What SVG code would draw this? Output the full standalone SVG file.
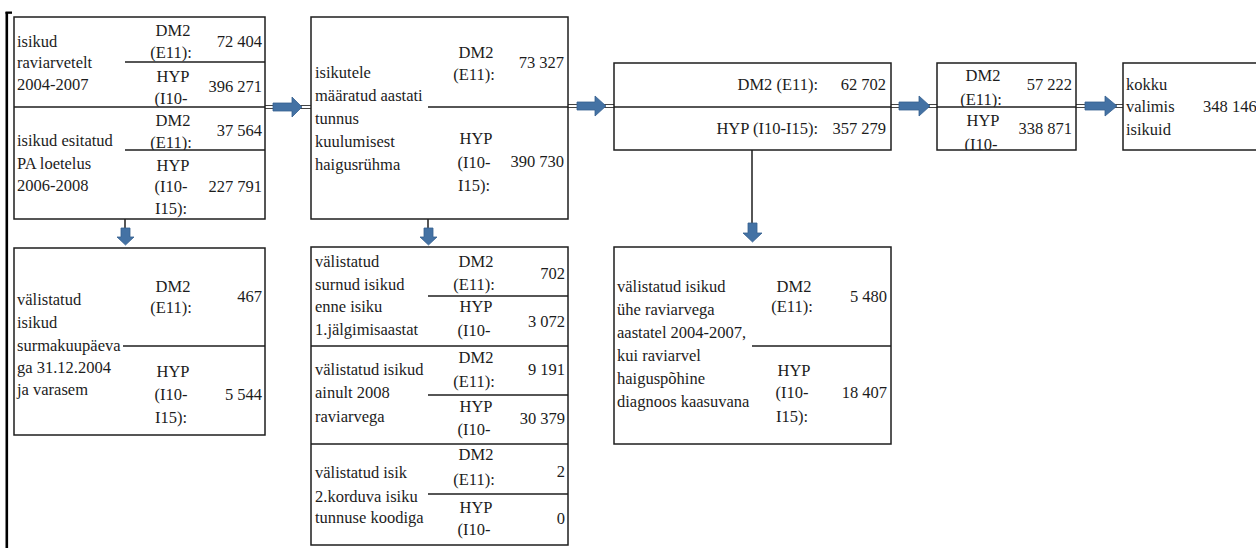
<svg xmlns="http://www.w3.org/2000/svg" width="1256" height="548" viewBox="0 0 1256 548">
<style>
  .box { fill: #ffffff; stroke: #1e1e1e; stroke-width: 1.5; }
  .div { stroke: #1e1e1e; stroke-width: 1.3; fill: none; }
  .t { font-family: "Liberation Serif", "Times New Roman", serif; font-size: 16.5px; fill: #1c1c1c; }
  .c { text-anchor: middle; }
  .r { text-anchor: end; }
  .dl { stroke: #444; stroke-width: 1; fill: none; }
  .vl { stroke: #1e1e1e; stroke-width: 1.5; fill: none; }
  .arr { fill: #4472A4; stroke: #35608f; stroke-width: 0.8; }
</style>
<defs>
  <clipPath id="clipA1"><rect x="14" y="17" width="251" height="90"/></clipPath>
  <clipPath id="clipA2"><rect x="14" y="107" width="251" height="43"/></clipPath>
  <clipPath id="clipD1"><rect x="937" y="63" width="139" height="44"/></clipPath>
  <clipPath id="clipD2"><rect x="937" y="107" width="139" height="43"/></clipPath>
</defs>
<rect x="0" y="0" width="1256" height="548" fill="#ffffff"/>

<g id="frame">
  <rect x="5.5" y="12" width="2.6" height="536" fill="#000"/>
  <rect x="5.5" y="11.5" width="6.5" height="2.3" fill="#000"/>
</g>

<g id="connectors">
  <line class="dl" x1="265" y1="105.5" x2="311" y2="105.5"/>
  <line class="dl" x1="265" y1="108.5" x2="311" y2="108.5"/>
  <path class="arr" d="M273,103 H292 V97 L302,107 L292,117 V111 H273 Z"/>
  <line class="dl" x1="568" y1="104.5" x2="614" y2="104.5"/>
  <line class="dl" x1="568" y1="107.5" x2="614" y2="107.5"/>
  <path class="arr" d="M577,102 H595 V96 L606,106 L595,116 V110 H577 Z"/>
  <line class="dl" x1="891" y1="104.5" x2="937" y2="104.5"/>
  <line class="dl" x1="891" y1="107.5" x2="937" y2="107.5"/>
  <path class="arr" d="M899,102 H919 V96 L930,106 L919,116 V110 H899 Z"/>
  <line class="dl" x1="1076" y1="104.5" x2="1123" y2="104.5"/>
  <line class="dl" x1="1076" y1="107.5" x2="1123" y2="107.5"/>
  <path class="arr" d="M1085,102 H1105 V96 L1117,106 L1105,116 V110 H1085 Z"/>
  <line class="vl" x1="125" y1="219" x2="125" y2="230"/>
  <path class="arr" d="M121,228 H130 V237 H134 L125.5,245 L117,237 H121 Z"/>
  <line class="vl" x1="428" y1="219" x2="428" y2="230"/>
  <path class="arr" d="M424,228 H433 V237 H437 L428.5,245 L420,237 H424 Z"/>
  <line class="vl" x1="752" y1="150" x2="752" y2="226"/>
  <path class="arr" d="M748,223 H757 V233 H762 L752.5,242 L743,233 H748 Z"/>
</g>

<g id="nodeA">
  <rect class="box" x="14" y="17" width="251" height="202"/>
  <line class="div" x1="14" y1="107" x2="265" y2="107"/>
  <line class="div" x1="125" y1="62" x2="265" y2="62"/>
  <line class="div" x1="125" y1="150" x2="265" y2="150"/>
  <text class="t" x="17" y="47">isikud</text>
  <text class="t" x="17" y="68">raviarvetelt</text>
  <text class="t" x="17" y="90">2004-2007</text>
  <g clip-path="url(#clipA1)">
    <text class="t c" x="173" y="36">DM2</text>
    <text class="t c" x="171" y="58">(E11):</text>
    <text class="t c" x="173" y="82">HYP</text>
    <text class="t c" x="171" y="104">(I10-</text>
  </g>
  <text class="t r" x="262" y="47">72 404</text>
  <text class="t r" x="262" y="92">396 271</text>
  <text class="t" x="17" y="146">isikud esitatud</text>
  <text class="t" x="17" y="169">PA loetelus</text>
  <text class="t" x="17" y="191">2006-2008</text>
  <g clip-path="url(#clipA2)">
    <text class="t c" x="173" y="125.5">DM2</text>
    <text class="t c" x="171" y="148">(E11):</text>
  </g>
  <text class="t c" x="173" y="170.5">HYP</text>
  <text class="t c" x="171" y="192">(I10-</text>
  <text class="t c" x="171" y="214">I15):</text>
  <text class="t r" x="262" y="135.5">37 564</text>
  <text class="t r" x="262" y="192">227 791</text>
</g>

<g id="nodeG">
  <rect class="box" x="14" y="248" width="251" height="187"/>
  <line class="div" x1="123" y1="346" x2="265" y2="346"/>
  <text class="t" x="17" y="305">välistatud</text>
  <text class="t" x="17" y="328">isikud</text>
  <text class="t" x="17" y="351">surmakuupäeva</text>
  <text class="t" x="17" y="373">ga 31.12.2004</text>
  <text class="t" x="17" y="395">ja varasem</text>
  <text class="t c" x="173" y="292">DM2</text>
  <text class="t c" x="171" y="313">(E11):</text>
  <text class="t r" x="262" y="302">467</text>
  <text class="t c" x="173" y="377">HYP</text>
  <text class="t c" x="171" y="400">(I10-</text>
  <text class="t c" x="171" y="423">I15):</text>
  <text class="t r" x="262" y="400">5 544</text>
</g>

<g id="nodeB">
  <rect class="box" x="311" y="17" width="257" height="202"/>
  <line class="div" x1="428" y1="107" x2="568" y2="107"/>
  <text class="t" x="315" y="78">isikutele</text>
  <text class="t" x="315" y="101">määratud aastati</text>
  <text class="t" x="315" y="124">tunnus</text>
  <text class="t" x="315" y="147">kuulumisest</text>
  <text class="t" x="315" y="170">haigusrühma</text>
  <text class="t c" x="476" y="57.5">DM2</text>
  <text class="t c" x="474" y="80">(E11):</text>
  <text class="t r" x="564" y="68">73 327</text>
  <text class="t c" x="476" y="143.5">HYP</text>
  <text class="t c" x="474" y="168">(I10-</text>
  <text class="t c" x="474" y="191">I15):</text>
  <text class="t r" x="564" y="167">390 730</text>
</g>

<g id="nodeH">
  <rect class="box" x="311" y="247" width="257" height="298"/>
  <line class="div" x1="311" y1="346" x2="568" y2="346"/>
  <line class="div" x1="311" y1="444" x2="568" y2="444"/>
  <line class="div" x1="428" y1="296" x2="568" y2="296"/>
  <line class="div" x1="428" y1="395" x2="568" y2="395"/>
  <line class="div" x1="428" y1="494" x2="568" y2="494"/>
  <text class="t" x="315" y="267">välistatud</text>
  <text class="t" x="315" y="290">surnud isikud</text>
  <text class="t" x="315" y="312">enne isiku</text>
  <text class="t" x="315" y="335">1.jälgimisaastat</text>
  <text class="t c" x="476" y="267">DM2</text>
  <text class="t c" x="474" y="290">(E11):</text>
  <text class="t r" x="565" y="279">702</text>
  <text class="t c" x="476" y="312">HYP</text>
  <text class="t c" x="474" y="336">(I10-</text>
  <text class="t r" x="565" y="327">3 072</text>
  <text class="t" x="315" y="375">välistatud isikud</text>
  <text class="t" x="315" y="398">ainult 2008</text>
  <text class="t" x="315" y="422">raviarvega</text>
  <text class="t c" x="476" y="363">DM2</text>
  <text class="t c" x="474" y="387">(E11):</text>
  <text class="t r" x="565" y="375">9 191</text>
  <text class="t c" x="476" y="412">HYP</text>
  <text class="t c" x="474" y="435">(I10-</text>
  <text class="t r" x="565" y="424">30 379</text>
  <text class="t" x="315" y="478">välistatud isik</text>
  <text class="t" x="315" y="502">2.korduva isiku</text>
  <text class="t" x="315" y="523">tunnuse koodiga</text>
  <text class="t c" x="476" y="460">DM2</text>
  <text class="t c" x="474" y="485">(E11):</text>
  <text class="t r" x="565" y="477">2</text>
  <text class="t c" x="476" y="513">HYP</text>
  <text class="t c" x="474" y="535">(I10-</text>
  <text class="t r" x="565" y="524">0</text>
</g>

<g id="nodeC">
  <rect class="box" x="614" y="63" width="277" height="87"/>
  <line class="div" x1="614" y1="107" x2="891" y2="107"/>
  <text class="t r" x="818" y="90">DM2 (E11):</text>
  <text class="t r" x="886" y="90">62 702</text>
  <text class="t r" x="818" y="134">HYP (I10-I15):</text>
  <text class="t r" x="886" y="134">357 279</text>
</g>

<g id="nodeF">
  <rect class="box" x="614" y="247" width="277" height="197"/>
  <line class="div" x1="752" y1="346" x2="891" y2="346"/>
  <text class="t" x="617" y="292">välistatud isikud</text>
  <text class="t" x="617" y="315">ühe raviarvega</text>
  <text class="t" x="617" y="338">aastatel 2004-2007,</text>
  <text class="t" x="617" y="361">kui raviarvel</text>
  <text class="t" x="617" y="384">haiguspõhine</text>
  <text class="t" x="617" y="407">diagnoos kaasuvana</text>
  <text class="t c" x="794" y="292">DM2</text>
  <text class="t c" x="792" y="312">(E11):</text>
  <text class="t r" x="887" y="302">5 480</text>
  <text class="t c" x="794" y="376">HYP</text>
  <text class="t c" x="792" y="398">(I10-</text>
  <text class="t c" x="792" y="422">I15):</text>
  <text class="t r" x="887" y="398">18 407</text>
</g>

<g id="nodeD">
  <rect class="box" x="937" y="63" width="139" height="87"/>
  <line class="div" x1="937" y1="107" x2="1076" y2="107"/>
  <g clip-path="url(#clipD1)">
    <text class="t c" x="983" y="80.5">DM2</text>
    <text class="t c" x="981" y="105">(E11):</text>
  </g>
  <g clip-path="url(#clipD2)">
    <text class="t c" x="983" y="125.5">HYP</text>
    <text class="t c" x="981" y="150">(I10-</text>
  </g>
  <text class="t r" x="1072" y="90">57 222</text>
  <text class="t r" x="1072" y="134">338 871</text>
</g>

<g id="nodeE">
  <rect class="box" x="1123" y="63" width="140" height="87"/>
  <text class="t" x="1126" y="90">kokku</text>
  <text class="t" x="1126" y="112">valimis</text>
  <text class="t" x="1126" y="135">isikuid</text>
  <text class="t" x="1203" y="112">348 146</text>
</g>
</svg>
